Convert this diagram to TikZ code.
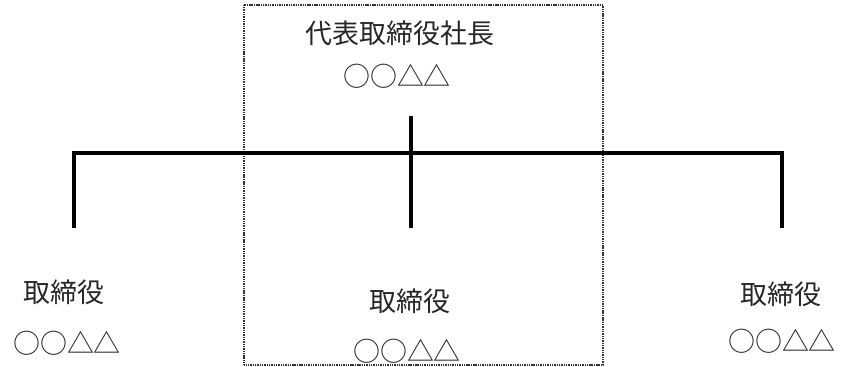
\documentclass[tikz,border=0pt]{standalone}
\usepackage{fontspec}
\newfontfamily\jpfont{Noto Sans CJK JP}
\begin{document}
\begin{tikzpicture}[x=0.03cm,y=-0.03cm,line join=miter,font=\jpfont\fontsize{23}{26}\selectfont,
  bar/.style={line width=3.4pt},
  label/.style={inner sep=0pt,text=black!85}]
\useasboundingbox (0,0) rectangle (841,367);
\draw[line width=1pt,dash pattern=on 0.9pt off 0.6pt,black!80]
(244,5) rectangle (603,365);
% names
\node[label] (pres) at (400,33) {代表取締役社長};
\node[label] (presN) at (397,76) {○○△△};
\node[label] (dirL) at (64,292) {取締役};
\node[label] (dirLN) at (67,343) {○○△△};
\node[label] (dirM) at (410,301) {取締役};
\node[label] (dirMN) at (407,351) {○○△△};
\node[label] (dirR) at (781,294) {取締役};
\node[label] (dirRN) at (782,341) {○○△△};
% lines
\coordinate (top) at (411,116);
\coordinate (cL) at (74,153);
\coordinate (cR) at (782,153);
\coordinate (endL) at (74,228);
\coordinate (endM) at (411,228);
\coordinate (endR) at (782,228);
\draw[bar] (endL) -- (cL) -- (cR) -- (endR);
\draw[bar] (top) -- (endM);
\end{tikzpicture}
\end{document}
